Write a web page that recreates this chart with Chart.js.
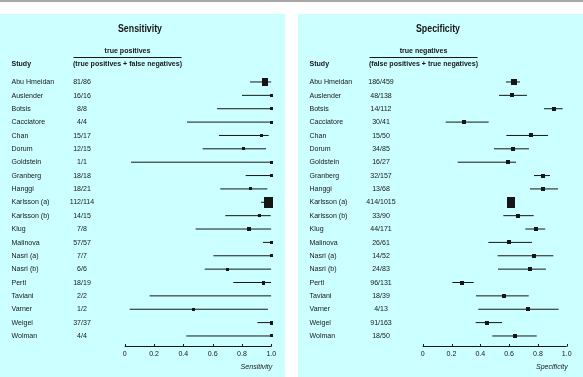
<!DOCTYPE html>
<html>
<head>
<meta charset="utf-8">
<script src="https://cdn.jsdelivr.net/npm/chart.js@4.4.1/dist/chart.umd.min.js"></script>
<style>
  body { margin: 0; background: #fff; width: 583px; height: 377px; overflow: hidden; position: relative; }
  .topbar { position: absolute; left: 0; top: 0; width: 583px; height: 2px; background: #a6a6a6; }
  .panel { position: absolute; top: 14px; width: 285px; height: 363px; background: #ccffff; }
  .panel canvas { display: block; }
  #leftPanel { left: 0; }
  #rightPanel { left: 298px; }
</style>
</head>
<body>
<div class="topbar"></div>
<div class="panel" id="leftPanel"><canvas id="sensChart" width="285" height="363"></canvas></div>
<div class="panel" id="rightPanel"><canvas id="specChart" width="285" height="363"></canvas></div>
<script>
const studies = ["Abu Hmeidan", "Auslender", "Botsis", "Cacciatore", "Chan", "Dorum", "Goldstein",
                 "Granberg", "Hanggi", "Karlsson (a)", "Karlsson (b)", "Klug", "Malinova", "Nasri (a)",
                 "Nasri (b)", "Pertl", "Taviani", "Varner", "Weigel", "Wolman"];

const sensCounts = ["81/86", "16/16", "8/8", "4/4", "15/17", "12/15", "1/1", "18/18", "18/21", "112/114",
                    "14/15", "7/8", "57/57", "7/7", "6/6", "18/19", "2/2", "1/2", "37/37", "4/4"];
const sensEst  = [0.96, 1, 1, 1, 0.93, 0.81, 1, 1, 0.855, 0.98, 0.92, 0.85, 1, 1, 0.70, 0.945, 1, 0.47, 1, 1];
const sensLow  = [0.855, 0.80, 0.63, 0.425, 0.643, 0.532, 0.043, 0.825, 0.652, 0.93, 0.686, 0.484, 0.943, 0.605,
                  0.546, 0.741, 0.17, 0.034, 0.905, 0.42];
const sensHigh = [1, 1, 1, 1, 0.982, 0.964, 1, 1, 0.973, 1, 0.996, 1, 1, 1, 1, 1, 1, 0.977, 1, 1];

const specCounts = ["186/459", "48/138", "14/112", "30/41", "15/50", "34/85", "16/27", "32/157", "13/68", "414/1015",
                    "33/90", "44/171", "26/61", "14/52", "24/83", "96/131", "18/39", "4/13", "91/163", "18/50"];
const specEst  = [0.632, 0.622, 0.91, 0.285, 0.754, 0.625, 0.59, 0.838, 0.835, 0.61, 0.662, 0.785, 0.597, 0.771,
                  0.745, 0.275, 0.565, 0.731, 0.449, 0.641];
const specLow  = [0.578, 0.53, 0.842, 0.16, 0.581, 0.495, 0.243, 0.773, 0.745, 0.585, 0.56, 0.713, 0.456, 0.52,
                  0.523, 0.206, 0.37, 0.386, 0.368, 0.483];
const specHigh = [0.676, 0.724, 0.972, 0.458, 0.87, 0.738, 0.648, 0.884, 0.94, 0.635, 0.771, 0.851, 0.759, 0.907,
                  0.856, 0.354, 0.736, 0.944, 0.551, 0.792];

const tickValues = [0, 0.2, 0.4, 0.6, 0.8, 1.0];
const tickLabels = ["0", "0.2", "0.4", "0.6", "0.8", "1.0"];

// marker box sizes [w, h] (study weight squares)
const sensBoxes = [[6, 8], [3, 3], [3, 3], [3, 3], [3, 3], [3, 3], [3, 3], [3, 3], [3, 3], [9, 11],
                   [3, 3], [4, 4], [3, 3], [3, 3], [3, 3], [3, 4], [0, 0], [3, 3], [3, 4], [3, 3]];
const specBoxes = [[6, 6], [4, 4], [4, 4], [4, 4], [4, 4], [4, 4], [4, 4], [4, 4], [4, 4], [8, 11],
                   [4, 4], [4, 4], [4, 4], [4, 4], [4, 4], [4, 4], [4, 4], [4, 4], [4, 4], [4, 4]];

const FONT = "'Liberation Sans', Arial, sans-serif";
const squeeze = 0.88;
const ink = "#161616";

function makeBox(w, h) {
    const c = document.createElement("canvas");
    c.width = Math.max(w, 1);
    c.height = Math.max(h, 1);
    const g = c.getContext("2d");
    g.fillStyle = w > 0 ? ink : "rgba(0,0,0,0)";
    g.fillRect(0, 0, c.width, c.height);
    return c;
}

function put(ctx, text, x, y, align, font) {
    ctx.font = font;
    ctx.textAlign = align;
    ctx.fillText(text, x, y, ctx.measureText(text).width * squeeze);
}

function forestText(cfg) {
    return {
        id: "forestText",
        afterDraw(chart) {
            const ctx = chart.ctx;
            const xs = chart.scales.x;
            const ys = chart.scales.y;
            ctx.save();
            ctx.fillStyle = ink;
            ctx.strokeStyle = ink;
            ctx.textBaseline = "middle";

            put(ctx, cfg.title, 140, 15, "center", "bold 10px " + FONT);
            put(ctx, cfg.headTop, cfg.headX, 37, "center", "bold 8px " + FONT);
            put(ctx, cfg.headBottom, cfg.headX, 49.5, "center", "bold 8px " + FONT);
            put(ctx, "Study", 11.5, 49.5, "left", "bold 8px " + FONT);

            ctx.lineWidth = 1;
            ctx.beginPath();
            ctx.moveTo(cfg.headX - 54, 43.5);
            ctx.lineTo(cfg.headX + 54, 43.5);
            ctx.stroke();

            studies.forEach((s, i) => {
                const y = ys.getPixelForValue(i);
                put(ctx, s, 11.5, y, "left", "8px " + FONT);
                put(ctx, cfg.counts[i], cfg.countX, y, "center", "8px " + FONT);
            });

            // x axis with upward ticks
            const ay = chart.chartArea.bottom + 0.5;
            ctx.beginPath();
            ctx.moveTo(xs.getPixelForValue(0), ay);
            ctx.lineTo(xs.getPixelForValue(1), ay);
            tickValues.forEach(v => {
                const x = Math.round(xs.getPixelForValue(v)) + 0.5;
                ctx.moveTo(x, ay);
                ctx.lineTo(x, ay - 2.5);
            });
            ctx.stroke();
            tickValues.forEach((v, i) => {
                put(ctx, tickLabels[i], xs.getPixelForValue(v), 339.5, "center", "8px " + FONT);
            });
            put(ctx, cfg.axisTitle, xs.getPixelForValue(1) + 1, 352.5, "right", "italic 8px " + FONT);
            ctx.restore();
        }
    };
}

function makeForest(canvasId, est, low, high, boxes, cfg) {
    const ctx = document.getElementById(canvasId).getContext("2d");

    const ciSets = low.map((lo, i) => ({
        data: [{ x: lo, y: i }, { x: high[i], y: i }],
        showLine: true,
        borderColor: ink,
        borderWidth: 1,
        pointRadius: 0
    }));

    const pointSet = {
        data: est.map((v, i) => ({ x: v, y: i })),
        pointStyle: boxes.map(b => makeBox(b[0], b[1])),
        pointRadius: boxes.map(b => (b[0] > 0 ? 3 : 0)),
        clip: false
    };

    return new Chart(ctx, {
        type: "scatter",
        data: { datasets: ciSets.concat([pointSet]) },
        options: {
            responsive: false,
            animation: false,
            events: [],
            layout: { padding: { left: 124.7, right: cfg.padRight, top: 61.3, bottom: 31 } },
            plugins: { legend: { display: false }, tooltip: { enabled: false } },
            scales: {
                x: { type: "linear", min: 0, max: 1, display: false },
                y: { type: "linear", min: -0.5, max: 19.75, reverse: true, display: false }
            }
        },
        plugins: [forestText(cfg)]
    });
}

makeForest("sensChart", sensEst, sensLow, sensHigh, sensBoxes, {
    title: "Sensitivity",
    headTop: "true positives",
    headBottom: "(true positives + false negatives)",
    headX: 127.5,
    counts: sensCounts,
    countX: 82,
    axisTitle: "Sensitivity",
    padRight: 13.7
});

makeForest("specChart", specEst, specLow, specHigh, specBoxes, {
    title: "Specificity",
    headTop: "true negatives",
    headBottom: "(false positives + true negatives)",
    headX: 125.5,
    counts: specCounts,
    countX: 83,
    axisTitle: "Specificity",
    padRight: 16.3
});
</script>
</body>
</html>
